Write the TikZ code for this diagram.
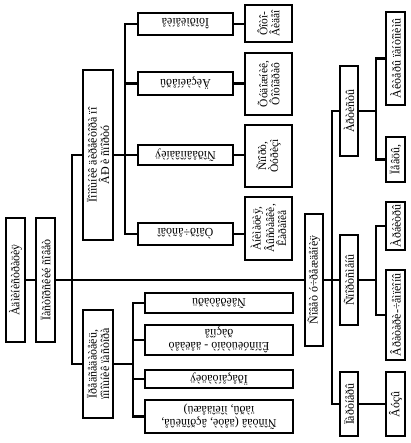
\documentclass[tikz,border=0pt]{standalone}
\usepackage{fontspec}
\setmainfont{Liberation Serif}
\begin{document}
\begin{tikzpicture}[x=1pt,y=-1pt,
  bx/.style={draw, line width=2.6pt, inner sep=0pt, align=center, font=\fontsize{12}{12.5}\selectfont},
  sm/.style={font=\fontsize{11.5}{12}\selectfont},
  vt/.style={rotate=90},
  fl/.style={rotate=180},
  ln/.style={line width=2.6pt}]
\useasboundingbox (0,0) rectangle (410,443);
% left column
\node[bx,vt,minimum width=124pt,minimum height=19pt] (A) at (15.5,280) {Àäìèíèñòðàöèÿ};
\node[bx,vt,minimum width=124pt,minimum height=19pt] (B) at (45.5,280) {Ïàñòîðñêèé ñîâåò};
\node[bx,vt,minimum width=170pt,minimum height=30pt] (C) at (98,155) {Ïîìîùíèê äèðåêòîðà ïî\\ÂÐ è ñïîðòó};
\node[bx,vt,minimum width=108pt,minimum height=30pt] (D) at (98,364) {Ïðåäñåäàòåëü,\\ïîìîùíèê ïàñòîðà};
% C children
\node[bx,fl,minimum width=95pt,minimum height=22pt] (c1) at (185.5,24) {Îôîðìëåíèå};
\node[bx,fl,minimum width=95pt,minimum height=23pt] (c2) at (185.5,83.5) {Äèçàéíåðû};
\node[bx,fl,minimum width=95pt,minimum height=20pt] (c3) at (185.5,155) {Ñîðåâíîâàíèÿ};
\node[bx,fl,minimum width=95pt,minimum height=22pt] (c4) at (185.5,234) {Òâîð÷åñòâî};
\node[bx,vt,sm,minimum width=37pt,minimum height=47pt] (s1) at (268.5,23.5) {Ôîòî-\\Âèäåî};
\node[bx,vt,sm,minimum width=62pt,minimum height=47pt] (s2) at (268.5,84) {Õóäîæíèê,\\Ôîòîãðàô};
\node[bx,vt,sm,minimum width=62pt,minimum height=47pt] (s3) at (268.5,156) {Ñïîðò,\\Òóðèçì};
\node[bx,vt,sm,minimum width=63pt,minimum height=47pt] (s4) at (268.5,228.5) {Àíèìàöèÿ,\\Âûñòàâêè,\\Êàðàîêå};
% D children
\node[bx,fl,minimum width=148pt,minimum height=20pt] (d1) at (219,303) {Ñåêðåòàðü};
\node[bx,fl,minimum width=148pt,minimum height=30pt] (d2) at (219,340) {Êîíñóëüòàíò - äåëàåò\\ðàçíîå};
\node[bx,fl,minimum width=148pt,minimum height=18pt] (d3) at (219,379) {Ïðåçåíòàöèÿ};
\node[bx,fl,minimum width=148pt,minimum height=33pt] (d4) at (219,416.5) {Ñîñòàâ (äåòè, âçðîñëûå,\\ïàðû, ìîëîäåæü)};
% right part
\node[bx,vt,minimum width=132pt,minimum height=18pt] (E) at (314,280) {Ñîâåò ó÷ðåæäåíèÿ};
\node[bx,vt,minimum width=90pt,minimum height=18pt] (G1) at (349,111) {Àðòèñòû};
\node[bx,vt,minimum width=90pt,minimum height=18pt] (G2) at (349,280) {Ñïîðòñìåíû};
\node[bx,vt,minimum width=64pt,minimum height=18pt] (G3) at (349,404) {Ïàðòíåðû};
\node[bx,vt,minimum width=93pt,minimum height=19pt] (G1a) at (395.5,58.5) {Àêòåðû ïàíòîìèìû};
\node[bx,vt,minimum width=45pt,minimum height=19pt] (G1b) at (395.5,159.5) {Ïåâöû,};
\node[bx,vt,minimum width=48pt,minimum height=19pt] (G2a) at (395.5,226) {Àðáèòðû};
\node[bx,vt,minimum width=90pt,minimum height=19pt] (G2b) at (395.5,315) {Âðàòàðè-÷åìïèîíû};
\node[bx,vt,minimum width=64pt,minimum height=19pt] (G3a) at (395.5,404) {Âóçû};
% bus coordinates
\coordinate (lbt) at (72,155);
\coordinate (lbb) at (72,364);
\coordinate (cbt) at (125,24);
\coordinate (cbb) at (125,234);
\coordinate (dbt) at (133,303);
\coordinate (dbb) at (133,416.5);
\coordinate (fbt) at (332,111);
\coordinate (fbb) at (332,404);
\coordinate (g1t) at (376,58.5);
\coordinate (g1b) at (376,159.5);
\coordinate (g2t) at (376,226);
\coordinate (g2b) at (376,315);
% connectors
\draw[ln] (A.south) -- (B.north);
\draw[ln] (B.south) -- (E.north);
\draw[ln] (C.north) -- (lbt) -- (lbb) -- (D.north);
\draw[ln] (C.south) -- (C.south -| cbt);
\draw[ln] (c1.east) -- (cbt) -- (cbb) -- (c4.east);
\draw[ln] (c2.east) -- (c2.east -| cbt);
\draw[ln] (c3.east) -- (c3.east -| cbt);
\draw[ln] (c1.west) -- (c1.west -| s1.north);
\draw[ln] (c2.west) -- (c2.west -| s2.north);
\draw[ln] (c3.west) -- (c3.west -| s3.north);
\draw[ln] (c4.west) -- (c4.west -| s4.north);
\draw[ln] (D.south) -- (D.south -| dbt);
\draw[ln] (d1.east) -- (dbt) -- (dbb) -- (d4.east);
\draw[ln] (d2.east) -- (d2.east -| dbt);
\draw[ln] (d3.east) -- (d3.east -| dbt);
\draw[ln] (E.south) -- (E.south -| fbt);
\draw[ln] (G1.north) -- (fbt) -- (fbb) -- (G3.north);
\draw[ln] (G2.north) -- (G2.north -| fbt);
\draw[ln] (G1.south) -- (G1.south -| g1t);
\draw[ln] (G1a.north) -- (g1t) -- (g1b) -- (G1b.north);
\draw[ln] (G2.south) -- (G2.south -| g2t);
\draw[ln] (G2a.north) -- (g2t) -- (g2b) -- (G2b.north);
\draw[ln] (G3.south) -- (G3a.north);
\end{tikzpicture}
\end{document}
